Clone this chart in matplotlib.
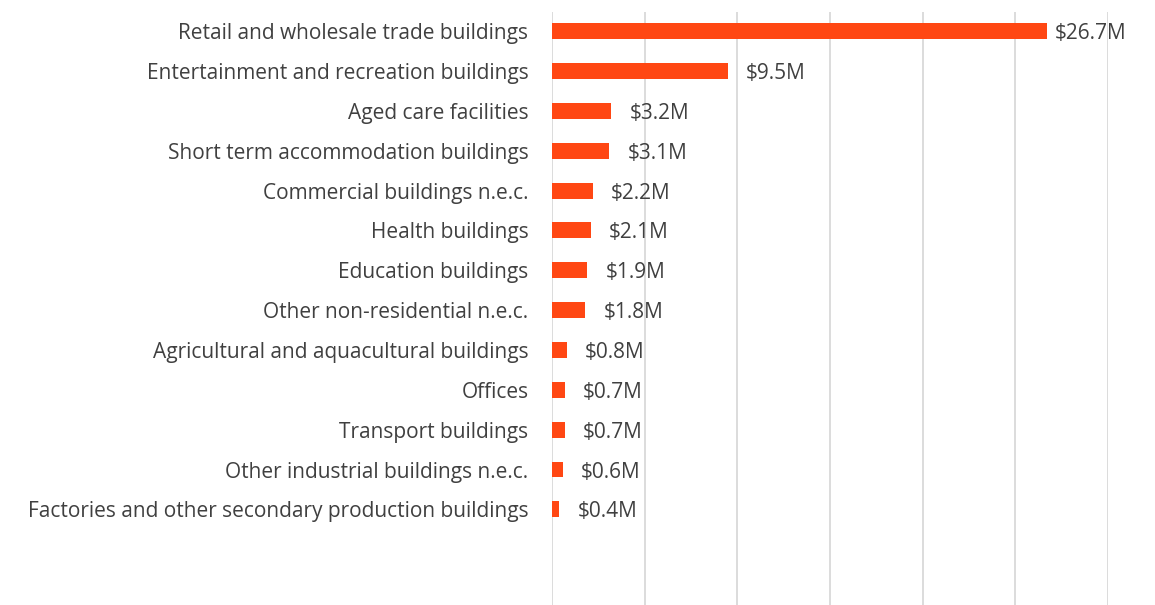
import matplotlib
matplotlib.use('Agg')
import matplotlib.pyplot as plt

categories = ['Retail and wholesale trade buildings',
              'Entertainment and recreation buildings',
              'Aged care facilities',
              'Short term accommodation buildings',
              'Commercial buildings n.e.c.',
              'Health buildings',
              'Education buildings',
              'Other non-residential n.e.c.',
              'Agricultural and aquacultural buildings',
              'Offices',
              'Transport buildings',
              'Other industrial buildings n.e.c.',
              'Factories and other secondary production buildings']
values = [26.7, 9.5, 3.2, 3.1, 2.2, 2.1, 1.9, 1.8, 0.8, 0.7, 0.7, 0.6, 0.4]
x_ticks = [0, 5, 10, 15, 20, 25, 30]

plt.rcParams['font.family'] = ['Open Sans', 'DejaVu Sans']
text_col = '#404040'

fig = plt.figure(figsize=(11.55, 6.05), dpi=100)
ax = fig.add_axes([552/1155, 0, (1108-552)/1155, 1 - 12/605])

ypos = list(range(len(categories)))
ax.barh(ypos, values, height=0.4, color='#FF4713', zorder=3)

for y, v in zip(ypos, values):
    # excel squeezes the biggest label closer to the bar
    off = 5.5 if v == max(values) else 13
    ax.annotate('$%.1fM' % v, (v, y), xytext=(off, 0), textcoords='offset points',
                va='center_baseline', ha='left', fontsize=15, color=text_col, zorder=4)

ax.set_xlim(0, 30)
ax.set_ylim(14.4, -0.48)
ax.set_xticks(x_ticks)
ax.set_xticklabels([])
ax.set_yticks(ypos)
ax.set_yticklabels(categories, fontsize=15, color=text_col)
ax.tick_params(axis='both', length=0)
ax.tick_params(axis='y', pad=17)
ax.grid(axis='x', color='#d9d9d9', linewidth=1.3, zorder=0)
for s in ax.spines.values():
    s.set_visible(False)

fig.savefig('out.png', dpi=100)
